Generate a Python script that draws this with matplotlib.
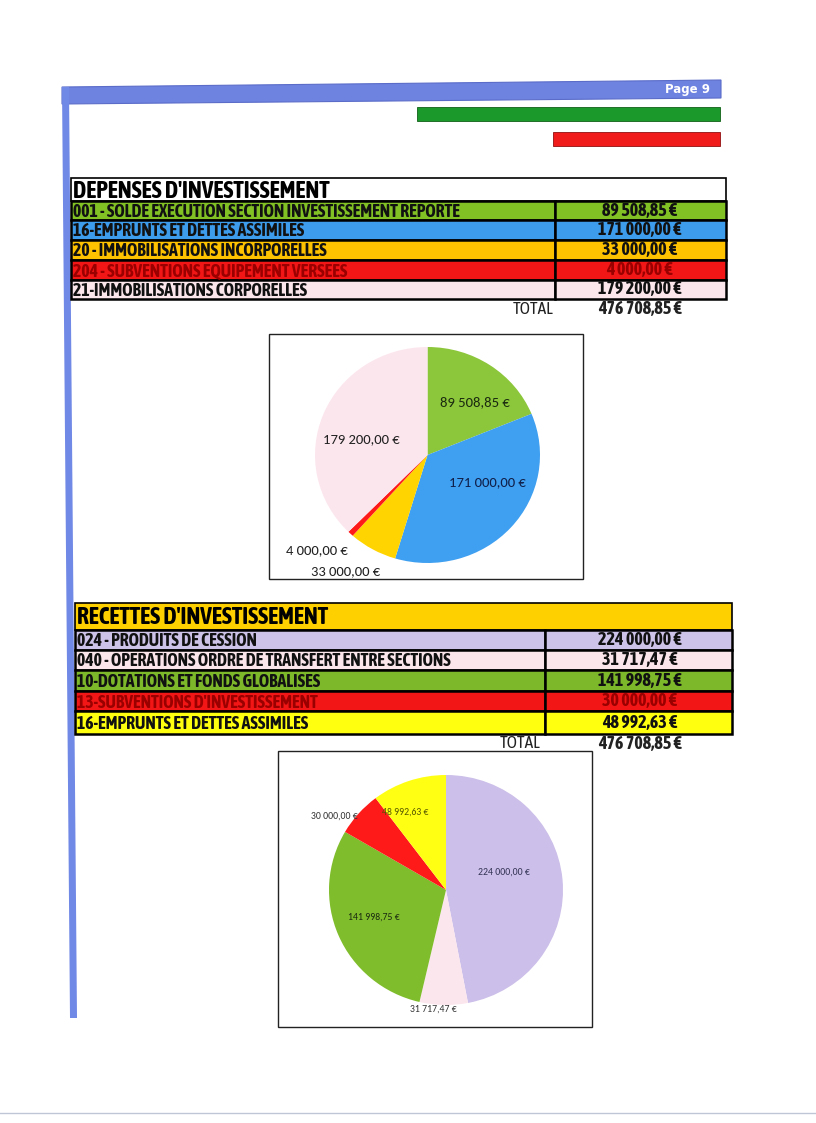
import matplotlib.pyplot as plt
import numpy as np
from matplotlib.patches import Rectangle, Polygon

# data
dep_title = "DEPENSES D'INVESTISSEMENT"
dep_labels = ["001 - SOLDE EXECUTION SECTION INVESTISSEMENT REPORTE",
              "16-EMPRUNTS ET DETTES ASSIMILES",
              "20 - IMMOBILISATIONS INCORPORELLES",
              "204 - SUBVENTIONS EQUIPEMENT VERSEES",
              "21-IMMOBILISATIONS CORPORELLES"]
dep_values = [89508.85, 171000.00, 33000.00, 4000.00, 179200.00]

rec_title = "RECETTES D'INVESTISSEMENT"
rec_labels = ["024 - PRODUITS DE CESSION",
              "040 - OPERATIONS ORDRE DE TRANSFERT ENTRE SECTIONS",
              "10-DOTATIONS ET FONDS GLOBALISES",
              "13-SUBVENTIONS D'INVESTISSEMENT",
              "16-EMPRUNTS ET DETTES ASSIMILES"]
rec_values = [224000.00, 31717.47, 141998.75, 30000.00, 48992.63]

# styles
dep_row_colors = ['#82c124', '#3d9cec', '#ffc200', '#f21616', '#fbe6ec']
dep_text_colors = ['#111111', '#111111', '#111111', '#9a0000', '#111111']
dep_pie_colors = ['#8cc63a', '#3f9ff0', '#ffd400', '#ff1a1a', '#fce6ee']
rec_row_colors = ['#cdc2e8', '#fbe6ec', '#7db82a', '#f21616', '#ffff10']
rec_text_colors = ['#111111', '#111111', '#111111', '#9a0000', '#111111']
rec_pie_colors = ['#ccbfe9', '#fce6ee', '#80bd2c', '#ff1a1a', '#ffff14']

NARROW = ['Asap Condensed', 'DejaVu Sans']
CAL = ['Carlito', 'DejaVu Sans']


def euro(v):
    s = f"{v:,.2f}"
    ent, dec = s.split('.')
    return ent.replace(',', ' ') + ',' + dec + ' €'


W, H = 816, 1123
fig = plt.figure(figsize=(W / 100, H / 100), dpi=100)
ax = fig.add_axes([0, 0, 1, 1])
ax.set_xlim(0, W)
ax.set_ylim(H, 0)
ax.axis('off')

blue = '#6e82e0'
# header bar and left bar (scan is a bit tilted)
ax.add_patch(Polygon([(62, 87), (721, 80), (721, 98), (62, 104)], closed=True,
                     facecolor=blue, edgecolor='#5a6cc8', lw=0.8))
ax.add_patch(Polygon([(62, 87), (69, 87), (77, 1018), (70, 1018)], closed=True,
                     facecolor='#7088e6', edgecolor='none'))
ax.text(710, 90, "Page 9", color='white', fontsize=8.5, fontweight='bold',
        ha='right', va='center', family=['DejaVu Sans'])

ax.add_patch(Rectangle((417, 107), 303, 14, facecolor='#1b9a2b', edgecolor='#106018', lw=0.6))
ax.add_patch(Rectangle((553, 132), 167, 14, facecolor='#f01b1b', edgecolor='#901010', lw=0.6))

# faint scan line at bottom
ax.plot([0, 816], [1113, 1113], color='#8090b0', lw=1, alpha=0.5)


def draw_table(x0, x1, top, title_bot, rows, xdiv, title, title_bg, labels, values,
               colors, tcolors, total_y, total_x):
    ax.add_patch(Rectangle((x0, top), x1 - x0, title_bot - top, facecolor=title_bg,
                           edgecolor='black', lw=1.2))
    ax.text(x0 + 2, (top + title_bot) / 2 + 1.5, title, fontsize=17, fontweight='bold',
            ha='left', va='center', family=NARROW, color='black')
    for i, (lab, val) in enumerate(zip(labels, values)):
        y0, y1 = rows[i], rows[i + 1]
        ax.add_patch(Rectangle((x0, y0), xdiv - x0, y1 - y0, facecolor=colors[i],
                               edgecolor='black', lw=1.8))
        ax.add_patch(Rectangle((xdiv, y0), x1 - xdiv, y1 - y0, facecolor=colors[i],
                               edgecolor='black', lw=1.8))
        yc = (y0 + y1) / 2 + 1.5
        ax.text(x0 + 2, yc, lab, fontsize=12.8, fontweight='bold', ha='left', va='center',
                family=NARROW, color=tcolors[i])
        ax.text(640, yc - 1.5, euro(val), fontsize=13, fontweight='bold', ha='center',
                va='center', family=NARROW, color=tcolors[i])
    ax.text(total_x, total_y, "TOTAL", fontsize=12.5, ha='center', va='center',
            family=NARROW, color='#222222')
    ax.text(640, total_y, euro(sum(values)), fontsize=13, fontweight='bold',
            ha='center', va='center', family=NARROW, color='#222222')


draw_table(71, 726, 178, 201, [201, 220, 240, 260, 280, 299], 555, dep_title, 'white',
           dep_labels, dep_values, dep_row_colors, dep_text_colors, 309, 533)
draw_table(75, 732, 603, 630, [630, 650, 670, 691, 711, 734], 545, rec_title, '#ffd000',
           rec_labels, rec_values, rec_row_colors, rec_text_colors, 744, 520)

# pie frames
ax.add_patch(Rectangle((269, 334), 314, 245, facecolor='none', edgecolor='#222222', lw=1))
ax.add_patch(Rectangle((278, 751), 314, 276, facecolor='none', edgecolor='#222222', lw=1))


def draw_pie(cx, cy, rx, ry, values, colors, label_layout, fsize, lcolors):
    pax = fig.add_axes([(cx - rx) / W, (H - cy - ry) / H, 2 * rx / W, 2 * ry / H])
    wedges, _ = pax.pie(values, colors=colors, startangle=90, counterclock=False,
                        wedgeprops=dict(linewidth=0))
    pax.set_aspect('auto')
    pax.set_xlim(-1, 1)
    pax.set_ylim(-1, 1)
    for w, v, (r, dt), c in zip(wedges, values, label_layout, lcolors):
        a = np.deg2rad((w.theta1 + w.theta2) / 2 + dt)
        pax.text(r * np.cos(a), r * np.sin(a), euro(v), fontsize=fsize, ha='center',
                 va='center', family=CAL, color=c, clip_on=False)
    return pax


draw_pie(427.5, 455, 112.5, 108, dep_values, dep_pie_colors,
         [(0.645, -7), (0.59, 17), (1.30, -5), (1.325, -5), (0.61, 8)], 10.5,
         ['#1a2a10', '#10204a', '#222222', '#222222', '#222222'])
draw_pie(446, 890, 117, 115, rec_values, rec_pie_colors,
         [(0.515, 12), (1.04, -5), (0.66, -2), (1.15, 8), (0.76, 9)], 7,
         ['#333355', '#333333', '#1a2a10', '#333333', '#555500'])

fig.savefig('out.png', dpi=100)
